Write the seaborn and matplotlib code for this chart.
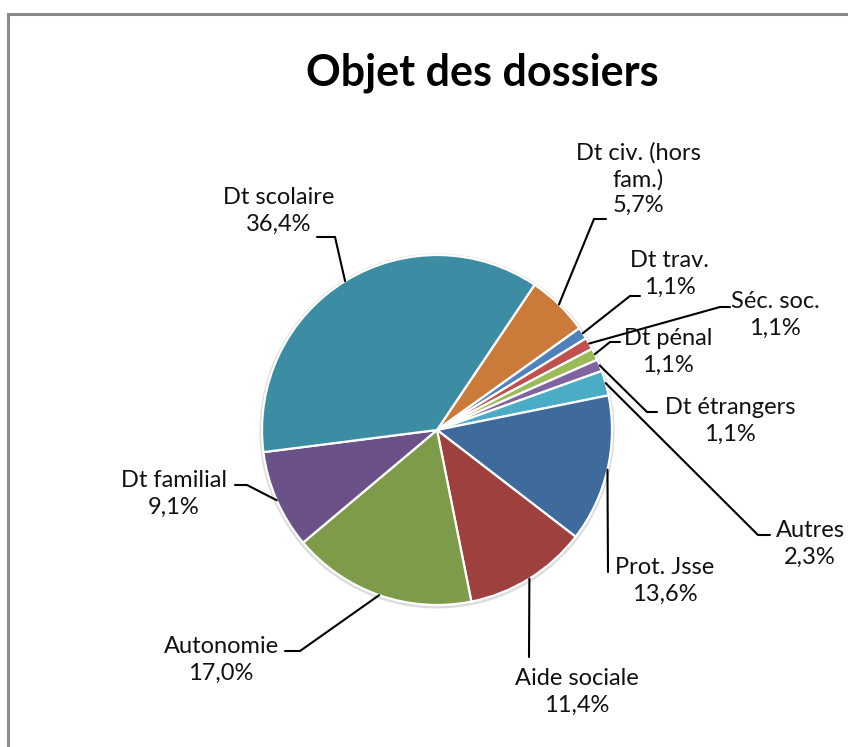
import numpy as np
import seaborn as sns
import matplotlib
matplotlib.use("Agg")
import matplotlib.pyplot as plt
from matplotlib.patches import Circle

# donnees du graphique (sens horaire a partir de "Dt civ.")
categories = ["Dt civ. (hors\nfam.)", "Dt trav.", "Séc. soc.", "Dt pénal", "Dt étrangers",
              "Autres", "Prot. Jsse", "Aide sociale", "Autonomie", "Dt familial", "Dt scolaire"]
valeurs = [5.7, 1.1, 1.1, 1.1, 1.1, 2.3, 13.6, 11.4, 17.0, 9.1, 36.4]
pourcents = ["5,7%", "1,1%", "1,1%", "1,1%", "1,1%", "2,3%", "13,6%", "11,4%", "17,0%", "9,1%", "36,4%"]
couleurs = ["#CB7B39", "#4F81BD", "#C0504D", "#9BBB59", "#8064A2", "#4BACC6",
            "#3E6A9C", "#9E403D", "#7E9B4A", "#6A5188", "#3C8DA3"]
titre = "Objet des dossiers"

W, H = 848, 747

def px(x, y):
    # coordonnees pixel (origine en haut a gauche) -> coordonnees des axes
    return x, H - y

# position des etiquettes (centre du texte) et coude des lignes de rappel, en pixels
pos_texte = [(638, 179), (670, 274), (775, 315), (668, 352), (730, 421),
             (810, 544), (665, 581), (577, 692), (221, 660), (174, 494), (279, 211)]
coudes = [[(594, 219), (606, 219)], [(630, 296), (640, 296)], [(720, 307), (730, 307)],
          [(610, 342), (620, 342)], [(647, 412), (657, 412)], [(758, 535), (770, 535)],
          [(608, 572)], [(529, 657)], [(300, 651), (285, 651)],
          [(247, 485), (235, 485)], [(335, 237), (317, 237)]]

sns.set_style("white")
plt.rcParams['font.family'] = ['Lato', 'DejaVu Sans']

fig = plt.figure(figsize=(W / 100, H / 100), dpi=100)
ax = fig.add_axes([0, 0, 1, 1])

cx, cy = px(437, 430)
R = 175

# ombre legere autour du camembert
ax.add_patch(Circle((cx, cy - 1), R + 1.8, color="#dcdcdc", zorder=0))

wedges, _ = ax.pie(valeurs, colors=couleurs, startangle=56.1, counterclock=False,
                   radius=R, center=(cx, cy), frame=True,
                   wedgeprops=dict(edgecolor="white", linewidth=1.6))
ax.set_xlim(0, W)
ax.set_ylim(0, H)
ax.set_aspect("equal")
ax.axis("off")

for w, cat, pc, (tx, ty), pts in zip(wedges, categories, pourcents, pos_texte, coudes):
    ang = np.deg2rad((w.theta1 + w.theta2) / 2)
    x0 = cx + R * np.cos(ang)
    y0 = cy + R * np.sin(ang)
    xs = [x0] + [px(*p)[0] for p in pts]
    ys = [y0] + [px(*p)[1] for p in pts]
    ax.plot(xs, ys, color="black", lw=1.5, solid_joinstyle="miter", zorder=3)
    ax.text(*px(tx, ty), cat + "\n" + pc, ha="center", va="center", fontsize=17,
            color="#111111", linespacing=1.3, zorder=4)

ax.text(*px(482, 73), titre, ha="center", va="center", fontsize=31,
        fontweight="bold", color="black")

# cadre de la zone graphique (coupe a droite et en bas)
ax.plot([8, 8, W + 5], [-5, H - 14, H - 14], color="#8a8a8a", lw=2.2,
        solid_joinstyle="miter", clip_on=False)

fig.savefig("out.png", dpi=100, facecolor="white")
